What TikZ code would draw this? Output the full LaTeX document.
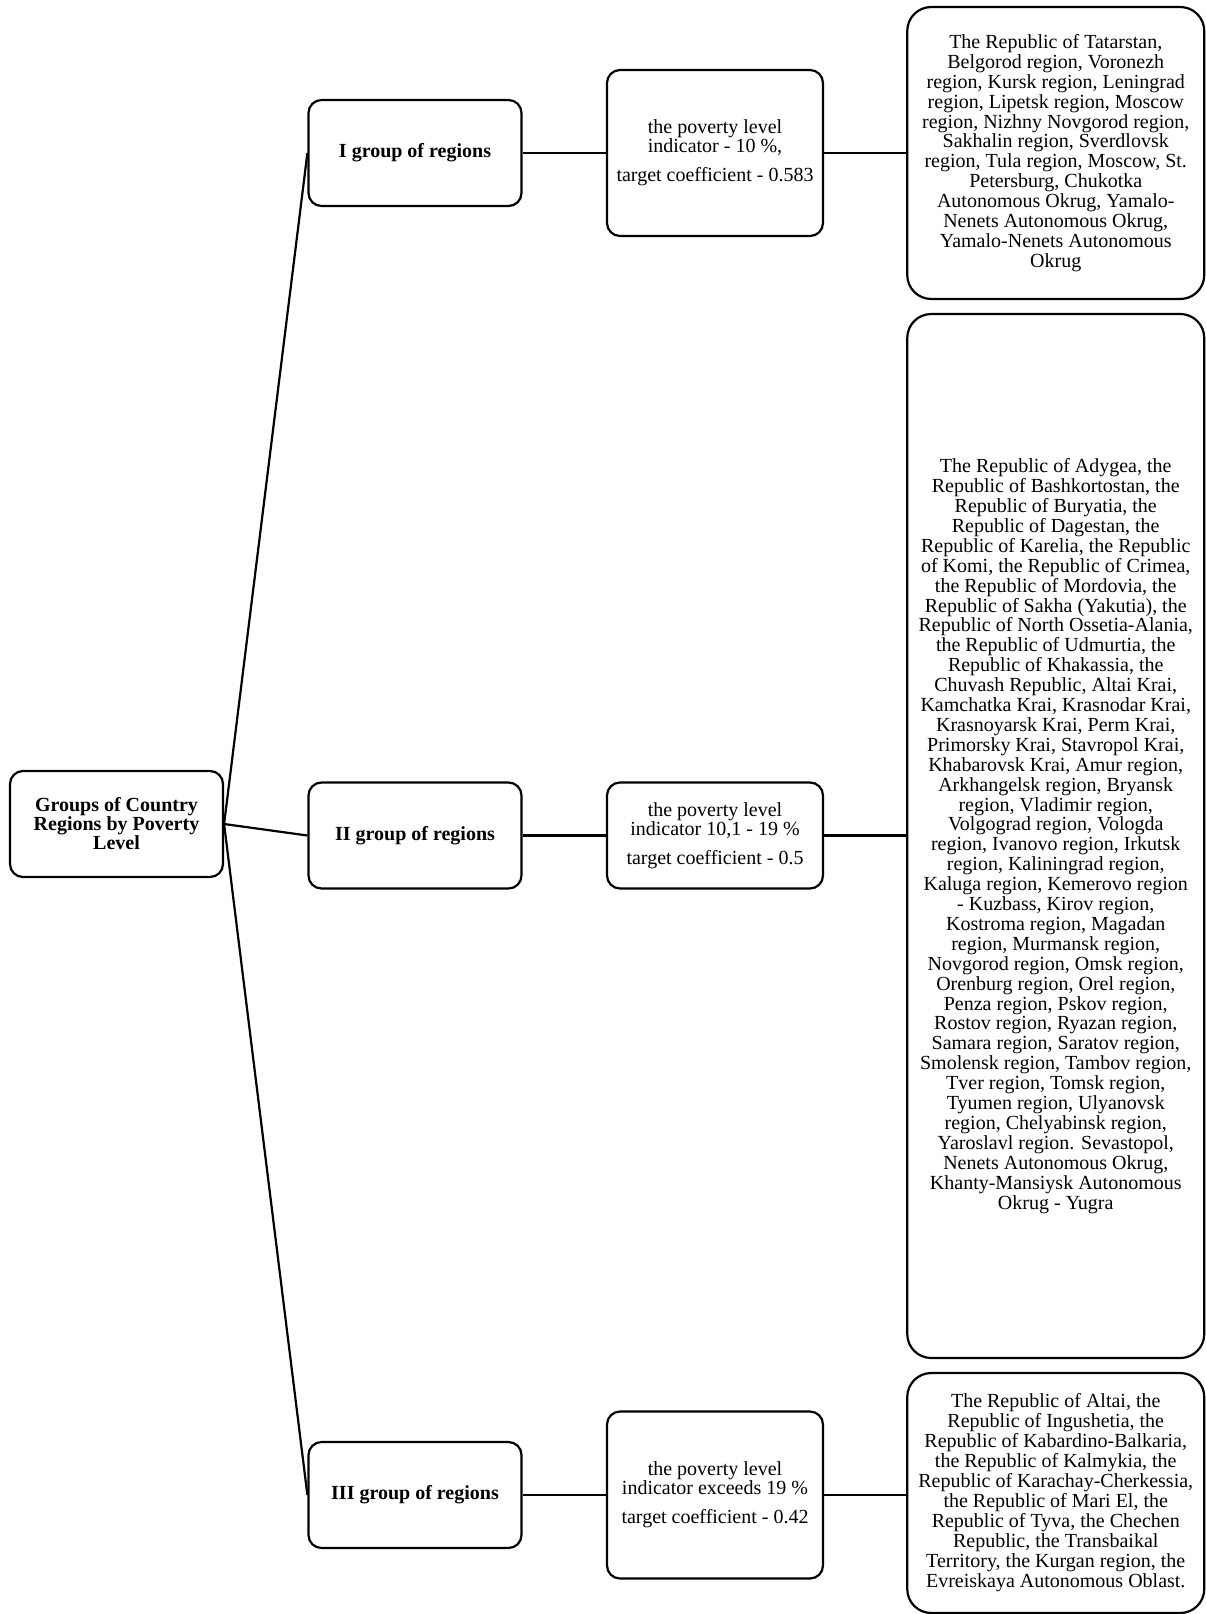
\documentclass[tikz,border=0pt]{standalone}
\usepackage{fontspec}
\setmainfont{Liberation Serif}
\begin{document}
\begin{tikzpicture}[x=1pt,y=-1pt,
  box/.style={draw=black,line width=2.2pt,rectangle,rounded corners=13pt,inner sep=0pt,align=center,font=\fontsize{20}{19}\selectfont},
  rootbox/.style={box,minimum width=213pt,minimum height=106pt,font=\fontsize{20}{19}\selectfont\bfseries},
  grpbox/.style={box,minimum width=213pt,minimum height=106pt,font=\fontsize{20}{19}\selectfont\bfseries},
  indbox/.style={box,minimum width=216pt,font=\fontsize{20}{18}\selectfont},
  regbox/.style={box,rounded corners=24pt,minimum width=297pt},
  link/.style={line width=2.2pt}
]
\useasboundingbox (0,0) rectangle (1206,1614);

\node[rootbox] (root) at (116.5,824) {Groups of Country\\Regions by Poverty\\Level};

\node[grpbox] (g1) at (415,153) {I group of regions};
\node[grpbox] (g2) at (415,835.5) {II group of regions};
\node[grpbox] (g3) at (415,1495) {III group of regions};

\node[indbox,minimum height=166pt] (i1) at (715,153) {the poverty level\\indicator - 10 \%,\\[11pt]target coefficient - 0.583};
\node[indbox,minimum height=106pt] (i2) at (715,835.5) {the poverty level\\indicator 10,1 - 19 \%\\[11pt]target coefficient - 0.5};
\node[indbox,minimum height=167pt] (i3) at (715,1495) {the poverty level\\indicator exceeds 19 \%\\[11pt]target coefficient - 0.42};

\node[regbox,minimum height=292pt,font=\fontsize{20}{19.9}\selectfont] (r1) at (1055.75,153) {The Republic of Tatarstan,\\Belgorod region, Voronezh\\region, Kursk region, Leningrad\\region, Lipetsk region, Moscow\\region, Nizhny Novgorod region,\\Sakhalin region, Sverdlovsk\\region, Tula region, Moscow, St.\\Petersburg, Chukotka\\Autonomous Okrug, Yamalo-\\Nenets Autonomous Okrug,\\Yamalo-Nenets Autonomous\\Okrug};

\node[regbox,minimum height=1044pt,font=\fontsize{20}{19.9}\selectfont] (r2) at (1055.75,836) {The Republic of Adygea, the\\Republic of Bashkortostan, the\\Republic of Buryatia, the\\Republic of Dagestan, the\\Republic of Karelia, the Republic\\of Komi, the Republic of Crimea,\\the Republic of Mordovia, the\\Republic of Sakha (Yakutia), the\\Republic of North Ossetia-Alania,\\the Republic of Udmurtia, the\\Republic of Khakassia, the\\Chuvash Republic, Altai Krai,\\Kamchatka Krai, Krasnodar Krai,\\Krasnoyarsk Krai, Perm Krai,\\Primorsky Krai, Stavropol Krai,\\Khabarovsk Krai, Amur region,\\Arkhangelsk region, Bryansk\\region, Vladimir region,\\Volgograd region, Vologda\\region, Ivanovo region, Irkutsk\\region, Kaliningrad region,\\Kaluga region, Kemerovo region\\- Kuzbass, Kirov region,\\Kostroma region, Magadan\\region, Murmansk region,\\Novgorod region, Omsk region,\\Orenburg region, Orel region,\\Penza region, Pskov region,\\Rostov region, Ryazan region,\\Samara region, Saratov region,\\Smolensk region, Tambov region,\\Tver region, Tomsk region,\\Tyumen region, Ulyanovsk\\region, Chelyabinsk region,\\Yaroslavl region. Sevastopol,\\Nenets Autonomous Okrug,\\Khanty-Mansiysk Autonomous\\Okrug - Yugra};

\node[regbox,minimum height=240pt,font=\fontsize{20}{20}\selectfont] (r3) at (1055.75,1493) {The Republic of Altai, the\\Republic of Ingushetia, the\\Republic of Kabardino-Balkaria,\\the Republic of Kalmykia, the\\Republic of Karachay-Cherkessia,\\the Republic of Mari El, the\\Republic of Tyva, the Chechen\\Republic, the Transbaikal\\Territory, the Kurgan region, the\\Evreiskaya Autonomous Oblast.};

\draw[link] (root.east) -- (g1.west);
\draw[link] (root.east) -- (g2.west);
\draw[link] (root.east) -- (g3.west);
\draw[link] (g1.east) -- (g1.east -| i1.west);
\draw[link] (g2.east) -- (g2.east -| i2.west);
\draw[link] (g3.east) -- (g3.east -| i3.west);
\draw[link] (i1.east) -- (i1.east -| r1.west);
\draw[link] (i2.east) -- (i2.east -| r2.west);
\draw[link] (i3.east) -- (i3.east -| r3.west);
\end{tikzpicture}
\end{document}
